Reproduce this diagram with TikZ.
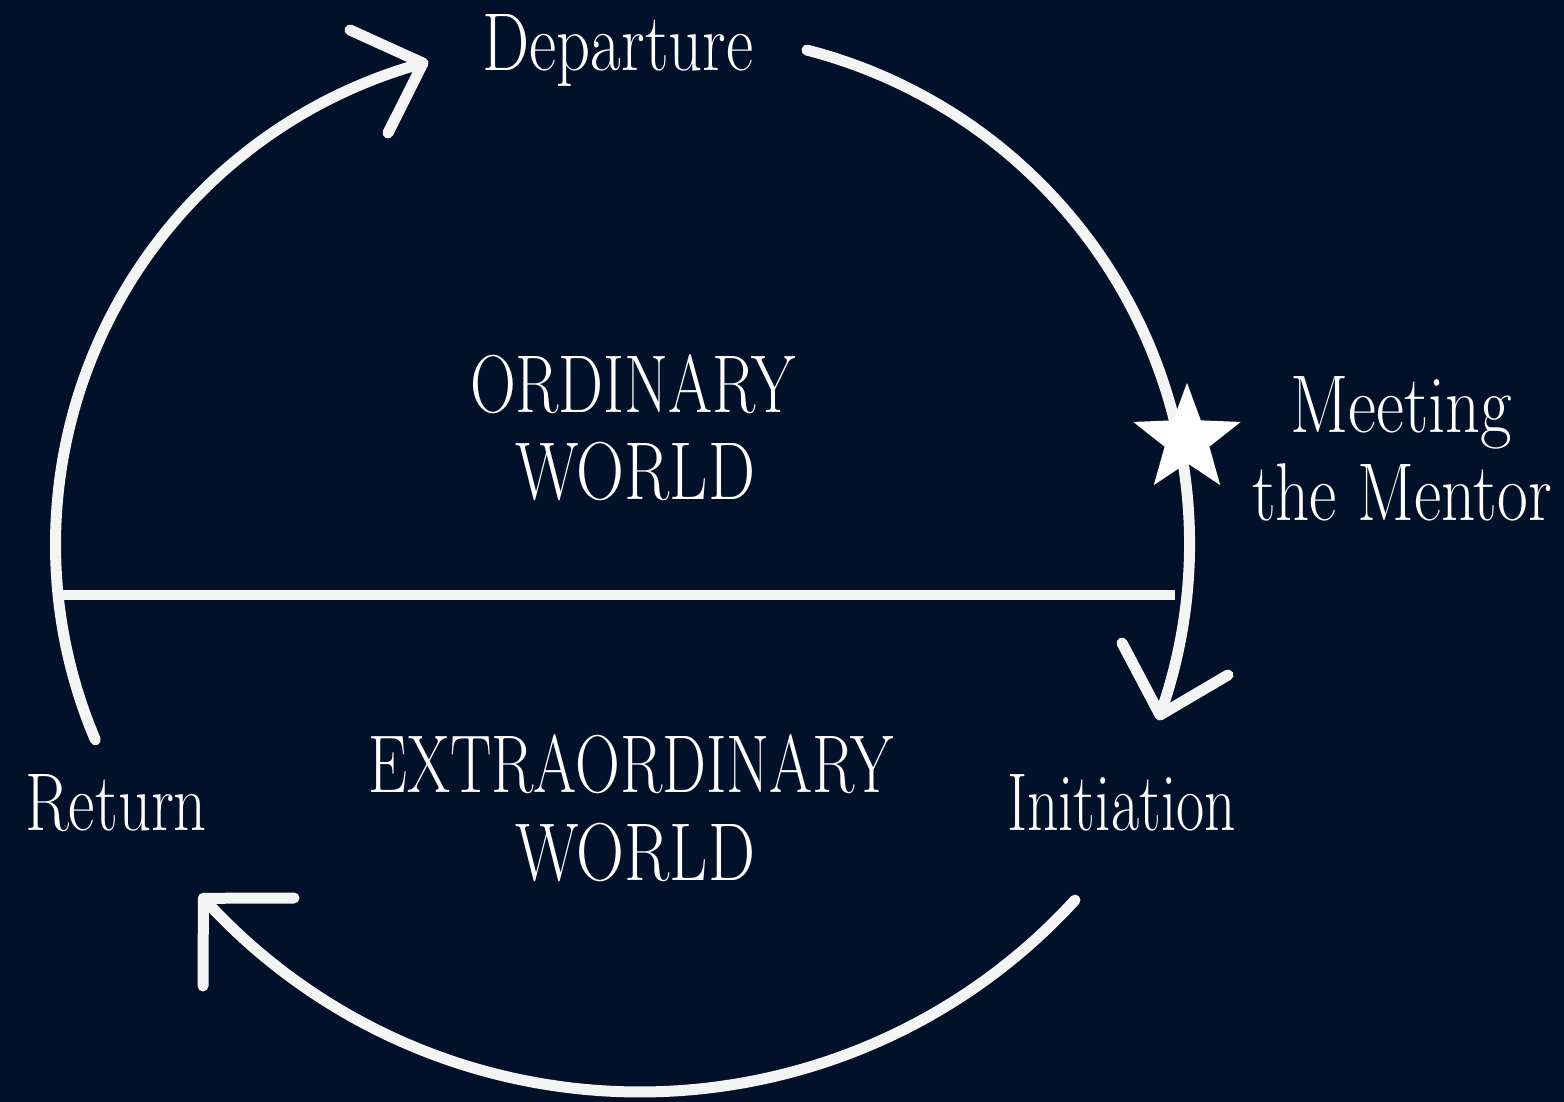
\documentclass[tikz,border=0pt]{standalone}
\usepackage{fontspec}
\usetikzlibrary{shapes.geometric}
\definecolor{bg}{HTML}{001129}
\definecolor{ln}{HTML}{F4F4F4}
\newsavebox\lblbox
\newcommand\fitw[2]{\sbox\lblbox{#2}\pgfmathsetmacro\lblsf{#1/\wd\lblbox}\scalebox{\lblsf}[1]{\usebox\lblbox}}
\begin{document}
\begin{tikzpicture}[x=1pt,y=-1pt,
  arcline/.style={draw=ln, line width=11pt, line cap=round, line join=round},
  lbl/.style={text=white, font=\fontsize{82}{98}\selectfont, inner sep=0pt, anchor=base}]
\fill[bg] (0,0) rectangle (1564,1102);
\useasboundingbox (0,0) rectangle (1564,1102);

% centres of the three arcs
\coordinate (cL) at (554.5,544.5);
\coordinate (cR) at (679.6,543.9);
\coordinate (cB) at (640,503);

% divider
\coordinate (hl) at (62,595);
\coordinate (hr) at (1175,595);
\draw[ln, line width=10pt] (hl) -- (hr);

% left arc -> Departure
\coordinate (sL) at ([shift={(156.95:499)}]cL);
\coordinate (tipD) at ([shift={(254.72:499)}]cL);
\draw[arcline] (sL) arc[start angle=156.95, end angle=254.72, radius=499];
\coordinate (aD1) at (350,30);
\coordinate (aD2) at (388,133);
\draw[arcline] (aD1) -- (tipD) -- (aD2);

% right arc -> Initiation
\coordinate (sR) at ([shift={(-75.54:510)}]cR);
\coordinate (tipI) at ([shift={(19.6:510)}]cR);
\draw[arcline] (sR) arc[start angle=-75.54, end angle=19.6, radius=510];
\coordinate (aI1) at (1122,643);
\coordinate (aI2) at (1228,675);
\draw[arcline] (aI1) -- (tipI) -- (aI2);

% bottom arc -> Return
\coordinate (sB) at ([shift={(42.39:589)}]cB);
\coordinate (tipR) at ([shift={(137.84:589)}]cB);
\draw[arcline] (sB) arc[start angle=42.39, end angle=137.84, radius=589];
\coordinate (aR1) at (294,898);
\coordinate (aR2) at (203,986);
\draw[arcline] (aR1) -- (tipR) -- (aR2);

% star
\node[star, star points=5, star point ratio=2.4, fill=white, draw=none, inner sep=0pt, minimum size=113pt] (star) at (1187,439.4) {};

% labels
\node[lbl] (dep) at (618,71) {\fitw{271}{Departure}};
\node[lbl] (ord) at (632.5,412) {\fitw{325}{ORDINARY}};
\node[lbl] (w1) at (635,499) {\fitw{240}{WORLD}};
\node[lbl] (ext) at (630.5,792) {\fitw{525}{EXTRAORDINARY}};
\node[lbl] (w2) at (635,880) {\fitw{240}{WORLD}};
\node[lbl] (meet) at (1401,432) {\fitw{222}{Meeting}};
\node[lbl] (ment) at (1402,520) {\fitw{300}{the Mentor}};
\node[lbl] (ini) at (1121.5,830) {\fitw{229}{Initiation}};
\node[lbl] (ret) at (116,830) {\fitw{182}{Return}};
\end{tikzpicture}
\end{document}
